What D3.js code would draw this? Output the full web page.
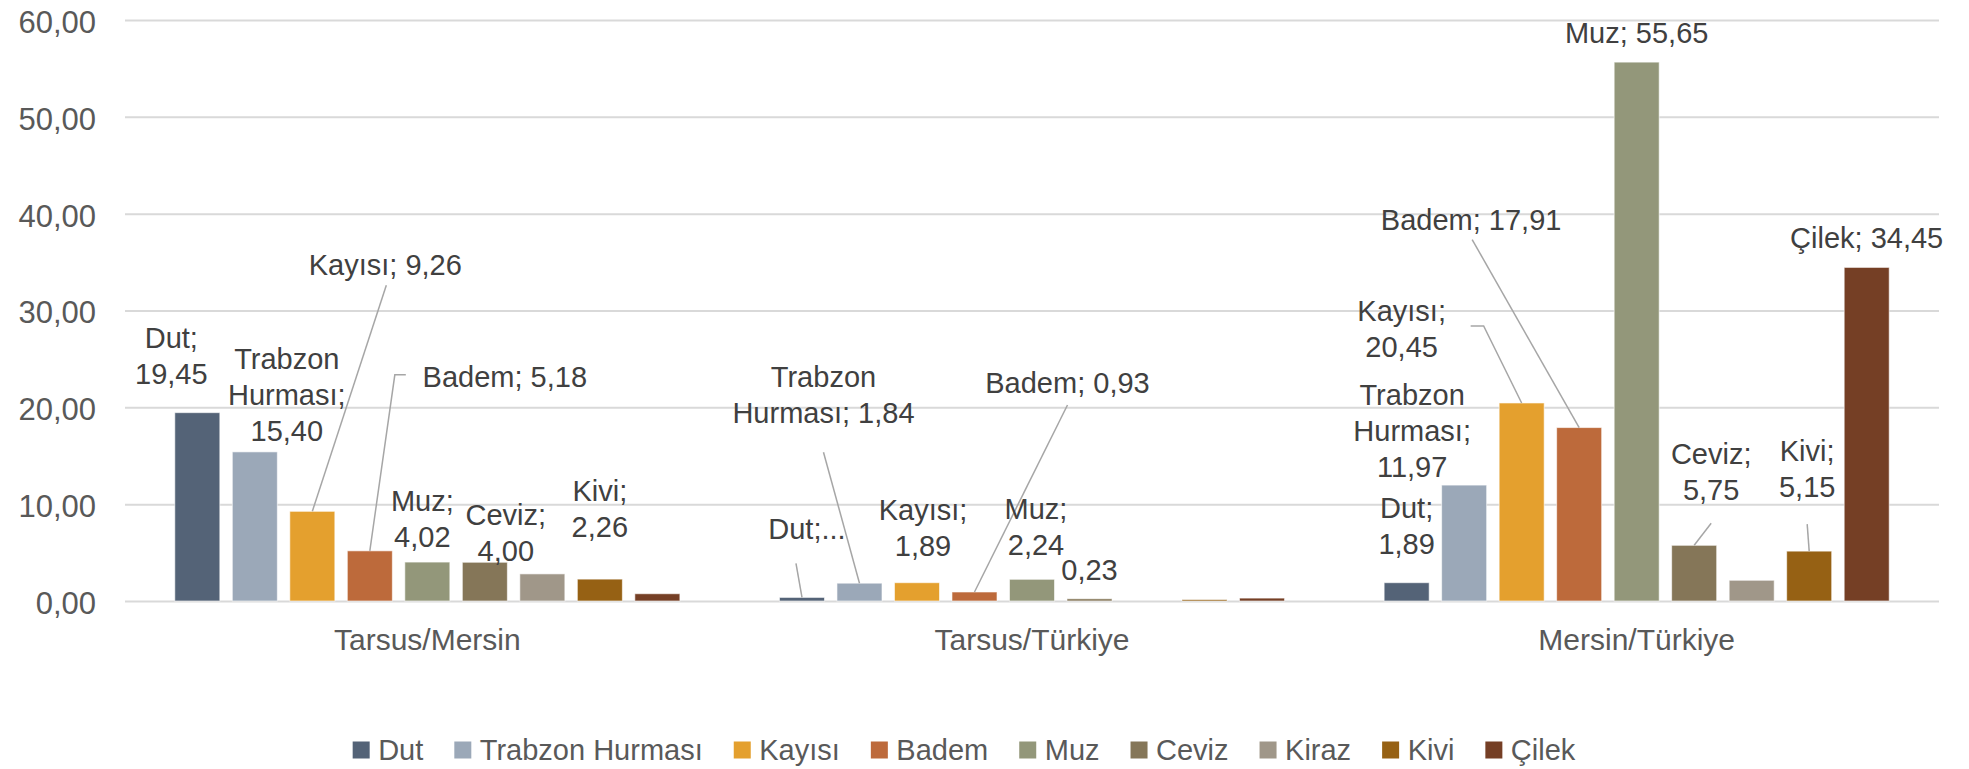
<!DOCTYPE html>
<html>
<head>
<meta charset="utf-8">
<script src="https://cdn.jsdelivr.net/npm/d3@7"></script>
<style>
  html, body { margin: 0; padding: 0; background: #fff; }
  svg { display: block; font-family: "Liberation Sans", Arial, sans-serif; }
</style>
</head>
<body>
<svg id="chart" width="1969" height="769"></svg>
<script>
// categories and series
const groups = ["Tarsus/Mersin", "Tarsus/Türkiye", "Mersin/Türkiye"];
const fruits = ["Dut", "Trabzon Hurması", "Kayısı", "Badem", "Muz", "Ceviz", "Kiraz", "Kivi", "Çilek"];
const colors = ["#546377", "#9ba8b8", "#e4a02e", "#bd6a3b", "#93977a", "#857658", "#a09789", "#966114", "#753f25"];

const dutValues     = [19.45, 0.37, 1.89];
const trabzonValues = [15.40, 1.84, 11.97];
const kayisiValues  = [9.26, 1.89, 20.45];
const bademValues   = [5.18, 0.93, 17.91];
const muzValues     = [4.02, 2.24, 55.65];
const cevizValues   = [4.00, 0.23, 5.75];
const kirazValues   = [2.80, 0.00, 2.14];
const kiviValues    = [2.26, 0.15, 5.15];
const cilekValues   = [0.75, 0.30, 34.45];

const yTicks = [0, 10, 20, 30, 40, 50, 60];

const series = [dutValues, trabzonValues, kayisiValues, bademValues, muzValues,
                cevizValues, kirazValues, kiviValues, cilekValues];

// where each shown data label sits (offsets from the bar top), how it wraps,
// and where its leader line starts (relative to label centre / last baseline)
const labelLayout = [
  {g: 0, s: 0, wrap: [1, 1], dx: -26, dy: -29},
  {g: 0, s: 1, wrap: [1, 1, 1], dx: 32, dy: -11},
  {g: 0, s: 2, wrap: [2], dx: 73, dy: -236, lead: [[1, 10]]},
  {g: 0, s: 3, wrap: [2], dx: 135, dy: -164, lead: [[-99, -12], [-110, -12]]},
  {g: 0, s: 4, wrap: [1, 1], dx: -5, dy: -15},
  {g: 0, s: 5, wrap: [1, 1], dx: 21, dy: -1},
  {g: 0, s: 7, wrap: [1, 1], dx: 0, dy: -42},

  {g: 1, s: 0, clip: true, dx: 5, dy: -58, lead: [[-11, 24]]},
  {g: 1, s: 1, wrap: [1, 2], dx: -36, dy: -160, lead: [[0, 29]]},
  {g: 1, s: 2, wrap: [1, 1], dx: 6, dy: -27},
  {g: 1, s: 3, wrap: [2], dx: 93, dy: -199, lead: [[0, 12]]},
  {g: 1, s: 4, wrap: [1, 1], dx: 4, dy: -24},
  {g: 1, s: 5, valueOnly: true, dx: 0, dy: -19},

  {g: 2, s: 0, wrap: [1, 1], dx: 0, dy: -29},
  {g: 2, s: 1, wrap: [1, 1, 1], dx: -52, dy: -8},
  {g: 2, s: 2, wrap: [1, 1], dx: -120, dy: -46, lead: [[69, -31], [82, -31]]},
  {g: 2, s: 3, wrap: [2], dx: -108, dy: -198, lead: [[1, 10]]},
  {g: 2, s: 4, wrap: [2], dx: 0, dy: -19},
  {g: 2, s: 5, wrap: [1, 1], dx: 17, dy: -45, lead: [[0, 23]]},
  {g: 2, s: 7, wrap: [1, 1], dx: -2, dy: -54, lead: [[0, 27]]},
  {g: 2, s: 8, wrap: [2], dx: 0, dy: -19}
];

const width = 1969, height = 769;
const plot = {left: 125, right: 1939, top: 20, bottom: 601};

const trLocale = d3.formatLocale({decimal: ",", thousands: ".", grouping: [3], currency: ["", "₺"]});
const fmt = trLocale.format(".2f");

const svg = d3.select("#chart");
svg.append("rect").attr("width", width).attr("height", height).attr("fill", "#fff");

// scales
const x0 = d3.scaleBand().domain(groups).range([plot.left, plot.right]).padding(0);
const x1 = d3.scaleBand().domain(fruits).range([0, x0.bandwidth()])
  .paddingInner(0.217).paddingOuter(0.866);
const y = d3.scaleLinear().domain([0, 60]).range([plot.bottom, plot.top]);

// y axis with gridlines
const yAxis = svg.append("g")
  .attr("transform", `translate(${plot.left},0)`)
  .call(d3.axisLeft(y).tickValues(yTicks).tickFormat(fmt)
    .tickSize(-(plot.right - plot.left)).tickPadding(29));
yAxis.select(".domain").remove();
yAxis.selectAll(".tick line").attr("stroke", "#d9d9d9").attr("stroke-width", 2);
yAxis.selectAll(".tick text")
  .attr("fill", "#595959").attr("font-size", 31).attr("dy", "0.40em")
  .style("font-family", "'Liberation Sans', Arial, sans-serif");

// x axis category labels
const xAxis = svg.append("g")
  .attr("transform", `translate(0,${plot.bottom})`)
  .call(d3.axisBottom(x0).tickSize(0).tickPadding(28));
xAxis.select(".domain").remove();
xAxis.selectAll(".tick text")
  .attr("fill", "#595959").attr("font-size", 30)
  .style("font-family", "'Liberation Sans', Arial, sans-serif");

// bars
const barData = [];
groups.forEach((g, gi) => fruits.forEach((f, si) => {
  barData.push({g, f, gi, si, v: series[si][gi]});
}));

svg.append("g").selectAll("rect")
  .data(barData)
  .join("rect")
  .attr("x", d => x0(d.g) + x1(d.f))
  .attr("y", d => y(d.v))
  .attr("width", x1.bandwidth())
  .attr("height", d => y(0) - y(d.v))
  .attr("fill", d => colors[d.si])
  .attr("stroke", "#fff")
  .attr("stroke-opacity", 0.6)
  .attr("stroke-width", 1);

// data labels with leader lines
const lineHeight = 36;
const labelG = svg.append("g");
const leaderLine = d3.line();

labelLayout.forEach(L => {
  const v = series[L.s][L.g];
  const cx = x0(groups[L.g]) + x1(fruits[L.s]) + x1.bandwidth() / 2;
  const ty = y(v);
  const lx = cx + L.dx;
  const lb = ty + L.dy;

  let lines;
  if (L.valueOnly) {
    lines = [fmt(v)];
  } else if (L.clip) {
    lines = [fruits[L.s] + ";..."];
  } else {
    const words = (fruits[L.s] + "; " + fmt(v)).split(" ");
    lines = [];
    let k = 0;
    L.wrap.forEach(n => { lines.push(words.slice(k, k + n).join(" ")); k += n; });
  }

  if (L.lead) {
    const pts = L.lead.map(([a, b]) => [lx + a, lb + b]);
    pts.push([cx, ty]);
    labelG.append("path")
      .attr("d", leaderLine(pts))
      .attr("fill", "none")
      .attr("stroke", "#a6a6a6")
      .attr("stroke-width", 1.5);
  }

  const t = labelG.append("text")
    .attr("text-anchor", "middle")
    .attr("font-size", 29)
    .attr("fill", "#404040");
  lines.forEach((ln, i) => {
    t.append("tspan")
      .attr("x", lx)
      .attr("y", lb - (lines.length - 1 - i) * lineHeight)
      .text(ln);
  });
});

// legend
const legend = svg.append("g");
const legendY = 750;
let lxPos = 0;
const items = fruits.map((f, i) => {
  const g = legend.append("g");
  g.append("rect").attr("x", 0).attr("y", legendY - 8.5).attr("width", 17).attr("height", 17)
    .attr("fill", colors[i]);
  const txt = g.append("text").attr("x", 25.5).attr("y", legendY + 9.5)
    .attr("font-size", 29).attr("fill", "#595959").text(f);
  const w = 25.5 + txt.node().getComputedTextLength();
  g.attr("transform", `translate(${lxPos},0)`);
  lxPos += w + 31;
  return g;
});
const legendWidth = lxPos - 31;
legend.attr("transform", `translate(${964 - legendWidth / 2},0)`);
</script>
</body>
</html>
